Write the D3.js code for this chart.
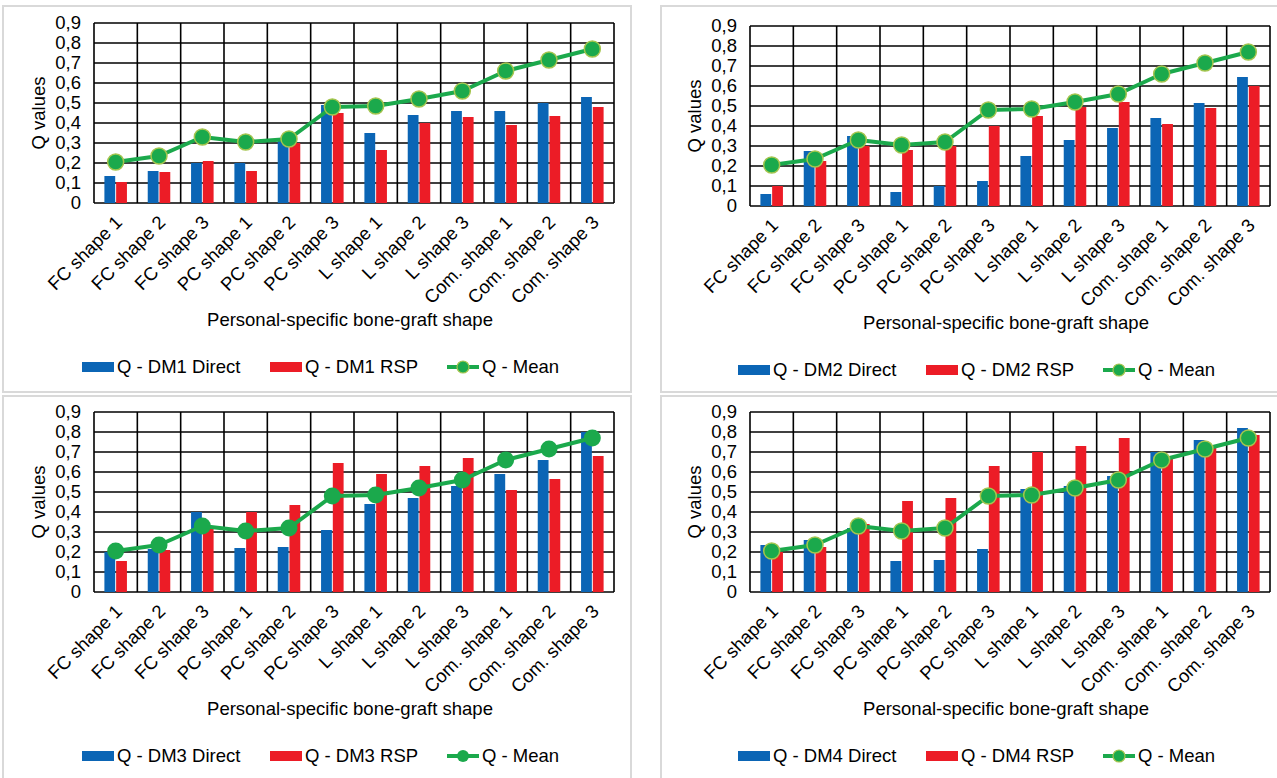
<!DOCTYPE html>
<html>
<head>
<meta charset="utf-8">
<script src="https://cdn.jsdelivr.net/npm/d3@7"></script>
<style>
  body { margin: 0; background: #fff; }
  svg { display: block; font-family: "Liberation Sans", Arial, sans-serif; }
</style>
</head>
<body>
<svg id="chart" width="1277" height="778"></svg>
<script>
// categories (bone-graft shapes)
const categories = ["FC shape 1", "FC shape 2", "FC shape 3", "PC shape 1", "PC shape 2", "PC shape 3",
  "L shape 1", "L shape 2", "L shape 3", "Com. shape 1", "Com. shape 2", "Com. shape 3"];

// mean Q (same in every panel)
const qMean = [0.205, 0.235, 0.33, 0.305, 0.32, 0.48, 0.485, 0.52, 0.56, 0.66, 0.715, 0.77];

const dm1Direct = [0.135, 0.16, 0.2, 0.2, 0.31, 0.49, 0.35, 0.44, 0.46, 0.46, 0.5, 0.53];
const dm1Rsp    = [0.105, 0.155, 0.21, 0.16, 0.3, 0.45, 0.265, 0.4, 0.43, 0.39, 0.435, 0.48];
const dm2Direct = [0.06, 0.275, 0.35, 0.07, 0.1, 0.125, 0.25, 0.33, 0.39, 0.44, 0.515, 0.645];
const dm2Rsp    = [0.1, 0.225, 0.3, 0.28, 0.3, 0.4, 0.45, 0.495, 0.52, 0.41, 0.49, 0.6];
const dm3Direct = [0.2, 0.215, 0.4, 0.22, 0.225, 0.31, 0.44, 0.47, 0.53, 0.59, 0.66, 0.8];
const dm3Rsp    = [0.155, 0.21, 0.32, 0.4, 0.435, 0.645, 0.59, 0.63, 0.67, 0.51, 0.565, 0.68];
const dm4Direct = [0.235, 0.26, 0.32, 0.155, 0.16, 0.215, 0.515, 0.53, 0.58, 0.7, 0.76, 0.82];
const dm4Rsp    = [0.2, 0.225, 0.34, 0.455, 0.47, 0.63, 0.7, 0.73, 0.77, 0.67, 0.72, 0.785];

const yTicks = [0, 0.1, 0.2, 0.3, 0.4, 0.5, 0.6, 0.7, 0.8, 0.9];
const yTickLabels = ["0", "0,1", "0,2", "0,3", "0,4", "0,5", "0,6", "0,7", "0,8", "0,9"];

const BLUE = "#0b65b5";
const RED = "#ec1c26";
const GREEN = "#1ba94c";
const RING = "#a4c54e";
const FONT = 18.5;

const svg = d3.select("#chart");

// panel frames (light grey boxes)
const frames = [
  { x: 3, y: 6, w: 628, h: 386 },
  { x: 661, y: 6, w: 630, h: 386 },
  { x: 3, y: 396, w: 628, h: 400 },
  { x: 661, y: 396, w: 630, h: 400 }
];
frames.forEach(f => {
  svg.append("rect")
    .attr("x", f.x).attr("y", f.y).attr("width", f.w).attr("height", f.h)
    .attr("fill", "#fff").attr("stroke", "#d9d9d9").attr("stroke-width", 2);
});

/** one combo chart (2 bar series + mean line)
 *
 * @param {number} px plot left
 * @param {number} py plot top
 * @param {string} dm name of the design method
 * @param {number[]} direct bar values
 * @param {number[]} rsp bar values
 * @param {boolean} ring marker outline
 */
function drawPanel(px, py, dm, direct, rsp, ring) {
  const W = 520, H = 180;
  const g = svg.append("g").attr("transform", `translate(${px},${py})`);

  const x = d3.scaleBand().domain(categories).range([0, W]).padding(0);
  const y = d3.scaleLinear().domain([0, 0.9]).range([H, 0]);
  const bw = x.bandwidth();
  const inner = d3.scaleBand().domain(["direct", "rsp"])
    .range([bw * 0.24, bw * 0.76]).paddingInner(0.08);

  // horizontal grid
  g.append("g").selectAll("line").data(yTicks).join("line")
    .attr("x1", 0).attr("x2", W)
    .attr("y1", d => y(d)).attr("y2", d => y(d))
    .attr("stroke", "#000").attr("stroke-width", 1.6);
  // vertical grid at category borders
  g.append("g").selectAll("line").data(d3.range(categories.length + 1)).join("line")
    .attr("x1", i => i * bw).attr("x2", i => i * bw)
    .attr("y1", 0).attr("y2", H)
    .attr("stroke", "#000").attr("stroke-width", 1.6);

  // bars
  const rows = categories.map((c, i) => ({ c, direct: direct[i], rsp: rsp[i] }));
  [["direct", BLUE], ["rsp", RED]].forEach(([key, col]) => {
    g.append("g").selectAll("rect").data(rows).join("rect")
      .attr("x", d => x(d.c) + inner(key))
      .attr("width", inner.bandwidth())
      .attr("y", d => y(d[key]))
      .attr("height", d => H - y(d[key]))
      .attr("fill", col);
  });

  // y tick labels
  g.append("g").selectAll("text").data(yTicks).join("text")
    .attr("x", -13).attr("y", d => y(d)).attr("dy", "0.35em")
    .attr("text-anchor", "end").attr("font-size", FONT).attr("fill", "#000")
    .text((d, i) => yTickLabels[i]);

  // x tick labels
  g.append("g").selectAll("text").data(categories).join("text")
    .attr("transform", d => `translate(${x(d) + bw / 2 + 3},${H + 16}) rotate(-45)`)
    .attr("text-anchor", "end").attr("dy", "0.35em")
    .attr("font-size", FONT).attr("fill", "#000")
    .text(d => d);

  // axis titles
  g.append("text")
    .attr("transform", `translate(-55,${H / 2}) rotate(-90)`)
    .attr("text-anchor", "middle").attr("dy", "0.35em")
    .attr("font-size", FONT).attr("fill", "#000")
    .text("Q values");
  g.append("text")
    .attr("x", W / 2 - 4).attr("y", H + 123)
    .attr("text-anchor", "middle").attr("font-size", FONT).attr("fill", "#000")
    .text("Personal-specific bone-graft shape");

  // mean line
  const line = d3.line().x((d, i) => x(categories[i]) + bw / 2).y(d => y(d));
  g.append("path").datum(qMean).attr("d", line)
    .attr("fill", "none").attr("stroke", GREEN).attr("stroke-width", 4)
    .attr("stroke-linejoin", "round");
  g.append("g").selectAll("circle").data(qMean).join("circle")
    .attr("cx", (d, i) => x(categories[i]) + bw / 2).attr("cy", d => y(d))
    .attr("r", ring ? 8 : 8.5)
    .attr("fill", GREEN)
    .attr("stroke", ring ? RING : "none").attr("stroke-width", 1.5);

  // legend
  const ly = H + 164;
  const lg = g.append("g").attr("transform", `translate(0,${ly})`);
  const items = [
    { type: "bar", col: BLUE, label: `Q - ${dm} Direct`, x: -12 },
    { type: "bar", col: RED, label: `Q - ${dm} RSP`, x: 176 },
    { type: "line", col: GREEN, label: "Q - Mean", x: 353 }
  ];
  items.forEach(it => {
    if (it.type == "bar") {
      lg.append("rect").attr("x", it.x).attr("y", -5).attr("width", 32).attr("height", 10).attr("fill", it.col);
    } else {
      lg.append("line").attr("x1", it.x).attr("x2", it.x + 32).attr("y1", 0).attr("y2", 0)
        .attr("stroke", it.col).attr("stroke-width", 4);
      lg.append("circle").attr("cx", it.x + 16).attr("cy", 0).attr("r", 6)
        .attr("fill", it.col).attr("stroke", ring ? RING : "none").attr("stroke-width", 1.2);
    }
    lg.append("text").attr("x", it.x + 35).attr("y", 0).attr("dy", "0.35em")
      .attr("font-size", FONT).attr("fill", "#000").text(it.label);
  });
}

drawPanel(94, 23, "DM1", dm1Direct, dm1Rsp, true);
drawPanel(750, 26, "DM2", dm2Direct, dm2Rsp, true);
drawPanel(94, 412, "DM3", dm3Direct, dm3Rsp, false);
drawPanel(750, 412, "DM4", dm4Direct, dm4Rsp, true);
</script>
</body>
</html>
